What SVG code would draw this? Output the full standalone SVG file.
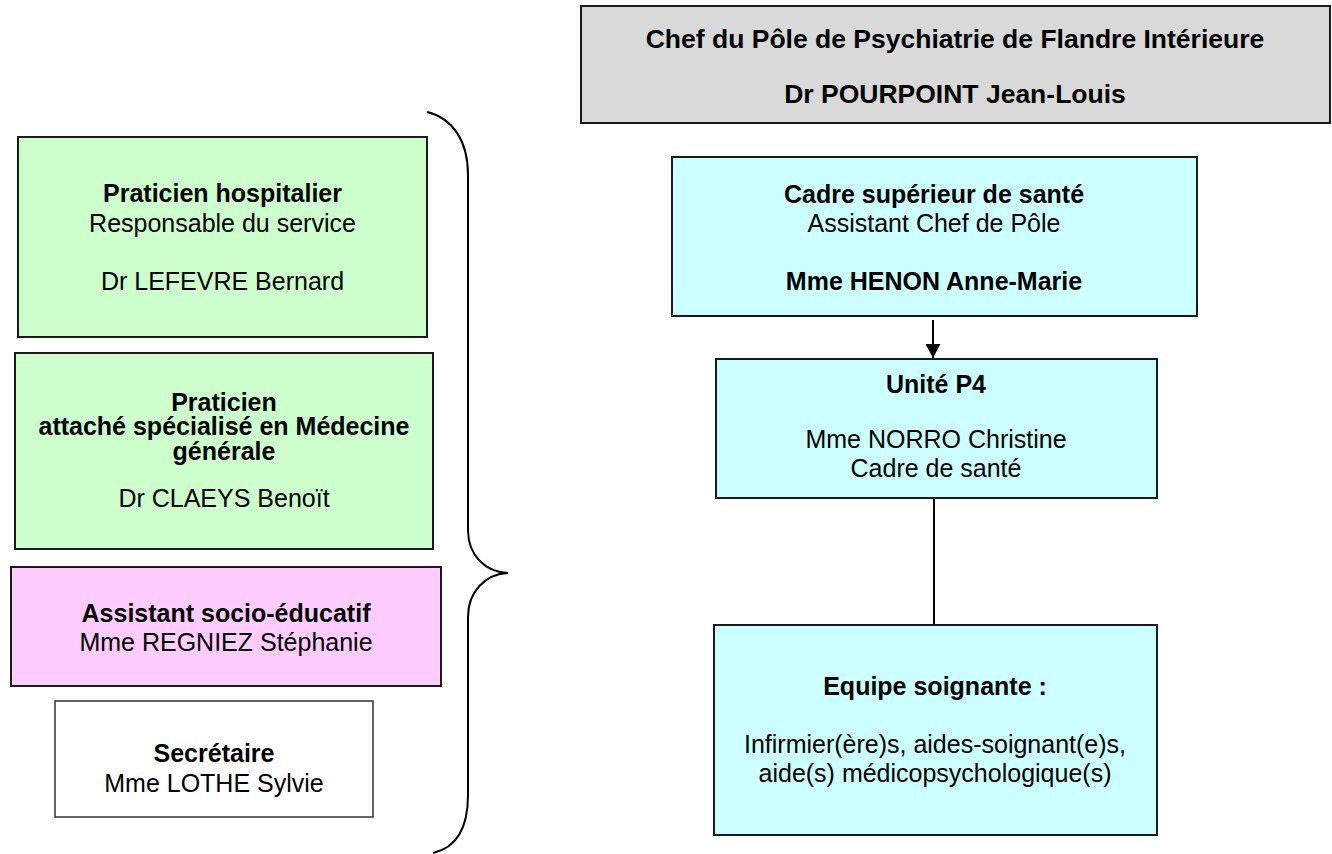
<svg xmlns="http://www.w3.org/2000/svg" width="1332" height="854" viewBox="0 0 1332 854">
<style>
text{font-family:"Liberation Sans",Arial,Helvetica,sans-serif;font-size:25px;fill:#000;text-anchor:middle}
.b{font-weight:bold}
.t{font-size:26.5px}
.box{stroke:#1a1a1a;stroke-width:2}
.green{fill:#CCFFCC}
.pink{fill:#FFCCFF}
.cyan{fill:#CCFFFF}
.gray{fill:#D9D9D9}
.white{fill:#FFFFFF;stroke:#333;stroke-width:1.5}
.conn{stroke:#000;stroke-width:2;fill:none}
</style>
<defs>
<marker id="arr" viewBox="0 0 14 15" refX="14" refY="7.5" markerWidth="14" markerHeight="15" orient="auto" markerUnits="userSpaceOnUse">
<path d="M0,0 L14,7.5 L0,15 z" fill="#000"/>
</marker>
</defs>
<rect width="1332" height="854" fill="#fff"/>

<g id="chef">
<rect class="box gray" x="581" y="6" width="749" height="117"/>
<text class="b t" x="955" y="48">Chef du Pôle de Psychiatrie de Flandre Intérieure</text>
<text class="b t" x="955" y="103">Dr POURPOINT Jean-Louis</text>
</g>

<g id="ph">
<rect class="box green" x="18" y="137" width="409" height="200"/>
<text class="b" x="222.5" y="202">Praticien hospitalier</text>
<text x="222.5" y="232">Responsable du service</text>
<text x="222.5" y="290">Dr LEFEVRE Bernard</text>
</g>

<g id="pa">
<rect class="box green" x="15" y="353" width="418" height="196"/>
<text class="b" x="224" y="411">Praticien</text>
<text class="b" x="224" y="435">attaché spécialisé en Médecine</text>
<text class="b" x="224" y="460">générale</text>
<text x="224" y="507">Dr CLAEYS Benoït</text>
</g>

<g id="ase">
<rect class="box pink" x="11" y="567" width="430" height="119"/>
<text class="b" x="226" y="622">Assistant socio-éducatif</text>
<text x="226" y="651">Mme REGNIEZ Stéphanie</text>
</g>

<g id="sec">
<rect class="white" x="55" y="701" width="318" height="116"/>
<text class="b" x="214" y="762">Secrétaire</text>
<text x="214" y="792">Mme LOTHE Sylvie</text>
</g>

<g id="cadre">
<rect class="box cyan" x="672" y="157" width="525" height="159"/>
<text class="b" x="934" y="203">Cadre supérieur de santé</text>
<text x="934" y="232">Assistant Chef de Pôle</text>
<text class="b" x="934" y="290">Mme HENON Anne-Marie</text>
</g>

<g id="unite">
<rect class="box cyan" x="716" y="359" width="441" height="139"/>
<text class="b" x="936" y="393">Unité P4</text>
<text x="936" y="448">Mme NORRO Christine</text>
<text x="936" y="477">Cadre de santé</text>
</g>

<g id="equipe">
<rect class="box cyan" x="714" y="625" width="443" height="210"/>
<text class="b" x="935" y="695">Equipe soignante :</text>
<text x="935" y="753">Infirmier(ère)s, aides-soignant(e)s,</text>
<text x="935" y="782">aide(s) médicopsychologique(s)</text>
</g>

<g id="connectors">
<line class="conn" x1="933" y1="320" x2="933" y2="358" marker-end="url(#arr)"/>
<line class="conn" x1="934" y1="499" x2="934" y2="624"/>
<path class="conn" d="M427,112 C452,118 468,140 468,175 L468,530 C468,555 485,572 508,573 C485,574 468,592 468,617 L468,795 C468,830 455,848 433,853"/>
</g>
</svg>
